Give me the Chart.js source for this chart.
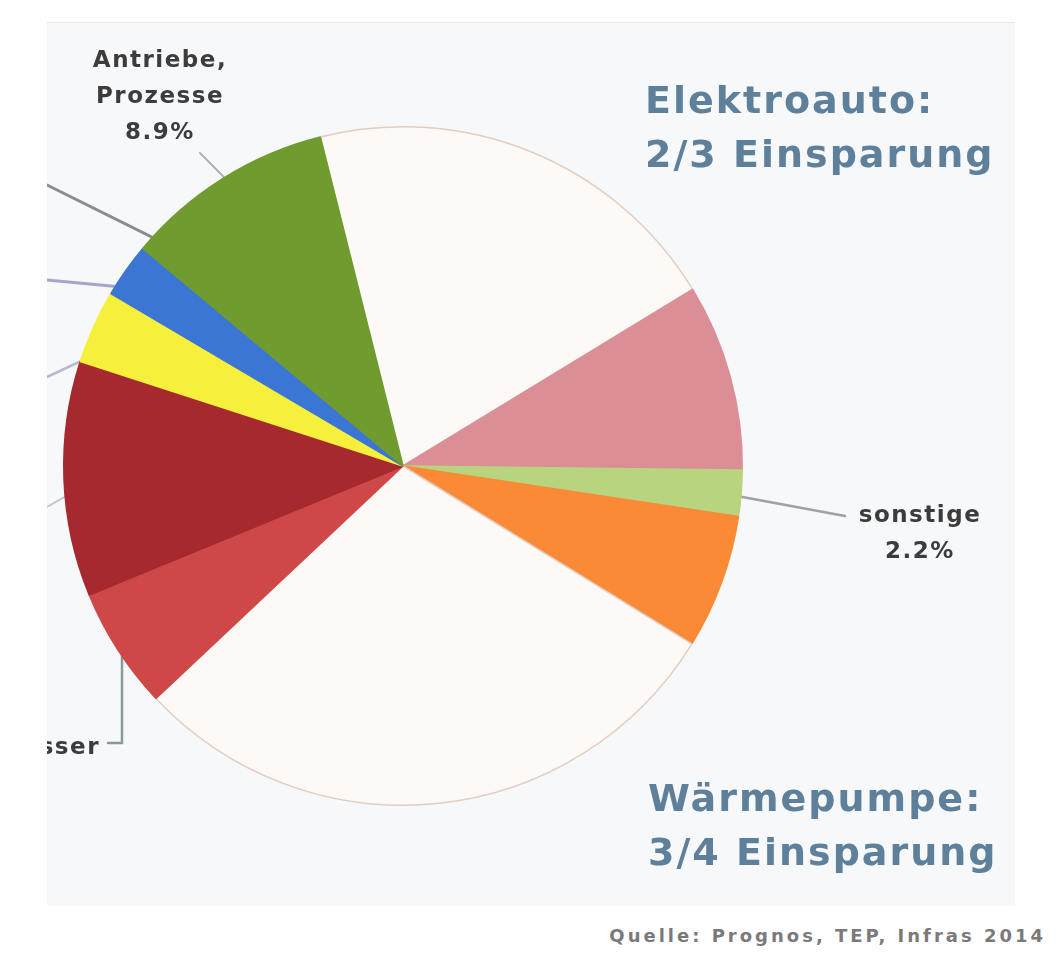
<!DOCTYPE html>
<html>
<head>
<meta charset="utf-8">
<script src="https://cdn.jsdelivr.net/npm/chart.js@4/dist/chart.umd.min.js"></script>
<style>
  html, body { margin: 0; padding: 0; background: #fff; }
  body { width: 1056px; height: 954px; position: relative; overflow: hidden; font-family: "DejaVu Sans", Verdana, sans-serif; }
  #panel { position: absolute; left: 47px; top: 22px; width: 968px; height: 883px; background: #f6f8fa; border-top: 1px solid #e6e9ec; overflow: hidden; }
  #chart { position: absolute; left: -47px; top: -22px; }
  .lbl { position: absolute; color: #3c3c3c; font-size: 23px; font-weight: bold; letter-spacing: 1.5px; line-height: 36px; text-align: center; }
  .big { position: absolute; color: #5f809a; font-size: 38px; font-weight: bold; letter-spacing: 2px; line-height: 54px; }
  #src { position: absolute; right: 10px; top: 925px; color: #7a7a7a; font-size: 18px; font-weight: bold; letter-spacing: 3px; }
</style>
</head>
<body>
<div id="panel">
  <canvas id="chart" width="1056" height="954"></canvas>
  <div class="lbl" style="left:-12px; top:18px; width:250px;">Antriebe,<br>Prozesse<br>8.9%</div>
  <div class="lbl" style="left:-187px; top:705px; width:240px; text-align:right;">Warmwasser</div>
  <div class="lbl" style="left:773px; top:473px; width:200px;">sonstige<br>2.2%</div>
  <div class="big" style="left:598px; top:50px;">Elektroauto:<br>2/3 Einsparung</div>
  <div class="big" style="left:601px; top:748px;">Wärmepumpe:<br>3/4 Einsparung</div>
</div>
<div id="src">Quelle: Prognos, TEP, Infras 2014</div>

<script>
// slices, clockwise from the top (values in percent)
var categories = [
  "Einsparung Elektroauto",
  "Verkehr",
  "sonstige",
  "Raumwärme",
  "Einsparung Wärmepumpe",
  "Warmwasser",
  "Prozesswärme",
  "Beleuchtung",
  "IKT",
  "Antriebe, Prozesse"
];
var shares = [20.2, 8.9, 2.2, 6.4, 29.2, 5.8, 11.2, 3.5, 2.6, 10.0];
var fills = ["#fdf9f6", "#dc8e96", "#b8d47e", "#fa8a35", "#fdf9f6", "#cf4848", "#a5292f", "#f6f03c", "#3b76d4", "#6f9b2f"];
var edges = ["#e2cdc1", "#dc8e96", "#b8d47e", "#fa8a35", "#e2cdc1", "#cf4848", "#a5292f", "#f6f03c", "#3b76d4", "#6f9b2f"];

// leader lines: slice index, position inside the slice, start point (label side)
var leaders = [
  { slice: 9, frac: 0.12, from: [47, 184], color: "#8c8c8c", w: 3 },
  { slice: 9, frac: 0.55, from: [200, 152], color: "#b0b0b0", w: 2 },
  { slice: 8, frac: 0.5, from: [47, 279], color: "#a6a6cc", w: 3 },
  { slice: 7, frac: 0.5, from: [47, 376], color: "#b8b8d0", w: 2.5 },
  { slice: 6, frac: 0.5, from: [47, 506], color: "#c4c4c4", w: 2 },
  { slice: 2, frac: 0.5, from: [845, 515], color: "#a0a0a8", w: 2.5 }
];

function arcPoint(arc, frac, rf) {
  var a = arc.startAngle + (arc.endAngle - arc.startAngle) * frac;
  var r = arc.outerRadius * rf;
  return [arc.x + Math.cos(a) * r, arc.y + Math.sin(a) * r];
}

var leaderPlugin = {
  id: "leaders",
  beforeDatasetsDraw: function(chart) {
    var ctx = chart.ctx;
    var arcs = chart.getDatasetMeta(0).data;
    ctx.save();
    ctx.lineCap = "round";
    leaders.forEach(function(l) {
      var p = arcPoint(arcs[l.slice], l.frac, 0.9);
      ctx.strokeStyle = l.color;
      ctx.lineWidth = l.w;
      ctx.beginPath();
      ctx.moveTo(l.from[0], l.from[1]);
      ctx.lineTo(p[0], p[1]);
      ctx.stroke();
    });
    // bracket for Warmwasser
    var q = arcPoint(arcs[5], 0.5, 0.9);
    ctx.strokeStyle = "#8a9a9a";
    ctx.lineWidth = 2.5;
    ctx.beginPath();
    ctx.moveTo(108, 742);
    ctx.lineTo(122, 742);
    ctx.lineTo(122, q[1]);
    ctx.stroke();
    ctx.restore();
  }
};

new Chart(document.getElementById("chart"), {
  type: "pie",
  data: {
    labels: categories,
    datasets: [{
      data: shares,
      backgroundColor: fills,
      borderColor: edges,
      borderWidth: 1.5
    }]
  },
  options: {
    responsive: false,
    animation: false,
    rotation: -14.1,
    layout: { padding: { left: 63, right: 313, top: 125, bottom: 149 } },
    plugins: {
      legend: { display: false },
      tooltip: { enabled: false }
    }
  },
  plugins: [leaderPlugin]
});
</script>
</body>
</html>
